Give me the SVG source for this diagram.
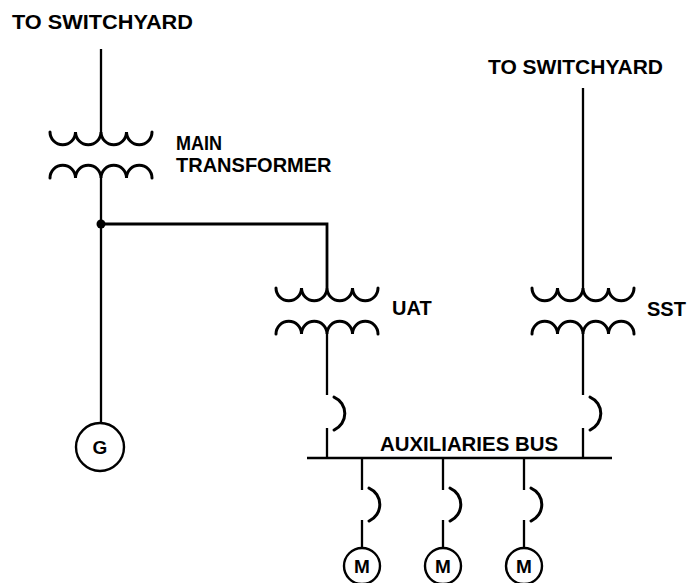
<svg xmlns="http://www.w3.org/2000/svg" xmlns:xlink="http://www.w3.org/1999/xlink" width="688" height="583" viewBox="0 0 688 583">
  <style>
    .ln { fill: none; stroke: #000; stroke-width: 2.3; stroke-linecap: butt; }
    .coil { fill: none; stroke: #000; stroke-width: 3; stroke-linecap: round; }
    .lbl { font-family: "Liberation Sans", Arial, Helvetica, sans-serif; font-weight: bold; font-size: 20px; fill: #000; }
    .sym { font-family: "Liberation Sans", Arial, Helvetica, sans-serif; font-weight: bold; font-size: 19px; fill: #000; text-anchor: middle; }
    .circ { fill: #fff; stroke: #000; stroke-width: 2.4; }
  </style>
  <defs>
    <g id="xfmr">
      <path class="coil" d="M-51,0 a12.75,12.75 0 0 0 25.5,0 a12.75,12.75 0 0 0 25.5,0 a12.75,12.75 0 0 0 25.5,0 a12.75,12.75 0 0 0 25.5,0"/>
      <path class="coil" d="M-51,46 a12.75,12.75 0 0 1 25.5,0 a12.75,12.75 0 0 1 25.5,0 a12.75,12.75 0 0 1 25.5,0 a12.75,12.75 0 0 1 25.5,0"/>
    </g>
    <path id="brk" class="coil" d="M7,0 a18,18 0 0 1 0,33"/>
  </defs>
  <rect width="688" height="583" fill="#fff"/>

  <g id="connectors">
    <path class="ln" d="M101,49 V132"/>
    <path class="ln" d="M101,178 V423"/>
    <path class="ln" d="M101,224 H327 V288" style="stroke-width:2.8"/>
    <path class="ln" d="M327,334 V395"/>
    <path class="ln" d="M327,428 V458"/>
    <path class="ln" d="M583,88 V288"/>
    <path class="ln" d="M583,334 V395"/>
    <path class="ln" d="M583,428 V458"/>
    <path class="ln" d="M362,458 V490 M362,520 V548"/>
    <path class="ln" d="M443,458 V490 M443,520 V548"/>
    <path class="ln" d="M524,458 V490 M524,520 V548"/>
    <circle cx="101" cy="224" r="4.5" fill="#000"/>
  </g>

  <g id="main-transformer">
    <use xlink:href="#xfmr" transform="translate(101,132)"/>
    <text class="lbl" x="176" y="150" textLength="46" lengthAdjust="spacingAndGlyphs">MAIN</text>
    <text class="lbl" x="176" y="172">TRANSFORMER</text>
  </g>

  <g id="uat">
    <use xlink:href="#xfmr" transform="translate(327,288)"/>
    <text class="lbl" x="392" y="315">UAT</text>
  </g>

  <g id="sst">
    <use xlink:href="#xfmr" transform="translate(583,288)"/>
    <text class="lbl" x="647" y="316">SST</text>
  </g>

  <g id="switchyard-1">
    <text class="lbl" x="12" y="29" textLength="181" lengthAdjust="spacingAndGlyphs">TO SWITCHYARD</text>
  </g>
  <g id="switchyard-2">
    <text class="lbl" x="488" y="74" textLength="175" lengthAdjust="spacingAndGlyphs">TO SWITCHYARD</text>
  </g>

  <g id="generator">
    <circle class="circ" cx="100" cy="447" r="24"/>
    <text class="sym" x="100" y="454">G</text>
  </g>

  <g id="breaker-uat"><use xlink:href="#brk" transform="translate(327,397)"/></g>
  <g id="breaker-sst"><use xlink:href="#brk" transform="translate(583,397)"/></g>

  <g id="auxiliaries-bus">
    <path class="ln" d="M307,458 H612"/>
    <text class="lbl" x="380" y="451" textLength="178" lengthAdjust="spacingAndGlyphs">AUXILIARIES BUS</text>
  </g>

  <g id="breaker-m1"><use xlink:href="#brk" transform="translate(362,488)"/></g>
  <g id="breaker-m2"><use xlink:href="#brk" transform="translate(443,488)"/></g>
  <g id="breaker-m3"><use xlink:href="#brk" transform="translate(524,488)"/></g>

  <g id="motor-1">
    <circle class="circ" cx="362" cy="566" r="18"/>
    <text class="sym" x="362" y="573">M</text>
  </g>
  <g id="motor-2">
    <circle class="circ" cx="443" cy="566" r="18"/>
    <text class="sym" x="443" y="573">M</text>
  </g>
  <g id="motor-3">
    <circle class="circ" cx="524" cy="566" r="18"/>
    <text class="sym" x="524" y="573">M</text>
  </g>
</svg>
